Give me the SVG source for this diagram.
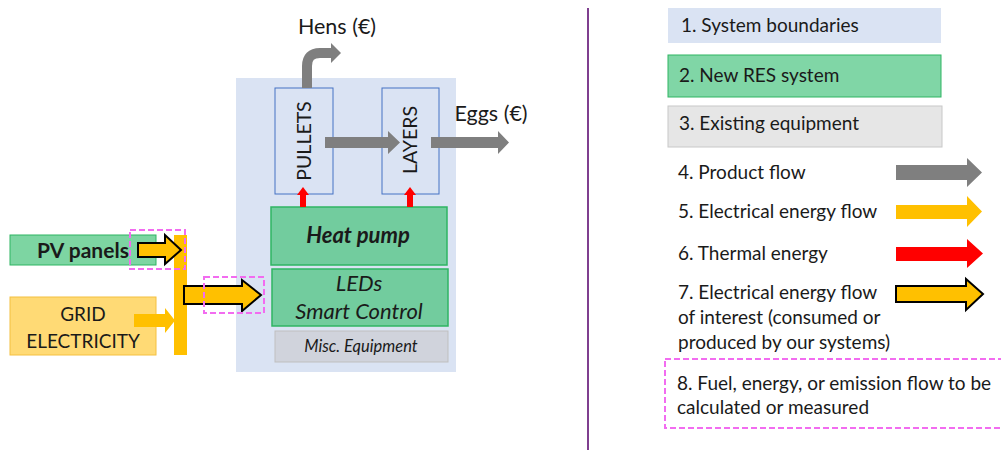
<svg xmlns="http://www.w3.org/2000/svg" width="1001" height="453" viewBox="0 0 1001 453">
<style>
text{font-family:Lato,"Liberation Sans",sans-serif;fill:#1a1a1a}
.lg{font-size:19px}
.green{fill:#72cc9e;stroke:#2fb563;stroke-width:1.5}
.gray{fill:#7f7f7f}
.yel{fill:#ffc000}
.yelo{fill:#ffc000;stroke:#000;stroke-width:2;stroke-linejoin:miter}
.red{fill:#ff0000}
.dash{fill:none;stroke:#f26cf0;stroke-width:2;stroke-dasharray:6,3}
.unit{fill:none;stroke:#4472c4;stroke-width:1}
</style>
<rect width="1001" height="453" fill="#fff"/>
<g id="boundary"><rect x="236" y="78" width="220" height="294" fill="#dae3f3"/></g>
<g id="pullets"><rect class="unit" x="275" y="88" width="58" height="106"/><text transform="translate(311,141) rotate(-90)" text-anchor="middle" font-size="19.5">PULLETS</text></g>
<g id="layers"><rect class="unit" x="382" y="88" width="57" height="106"/><text transform="translate(417,140) rotate(-90)" text-anchor="middle" font-size="19.5">LAYERS</text></g>
<g id="heatpump"><rect class="green" x="271" y="207" width="176" height="58"/><text x="358" y="243" text-anchor="middle" font-size="22" font-weight="bold" font-style="italic">Heat pump</text></g>
<g id="leds"><rect class="green" x="272" y="269" width="176" height="57"/><text x="359" y="291" text-anchor="middle" font-size="22" font-style="italic">LEDs</text><text x="359" y="319" text-anchor="middle" font-size="22" font-style="italic">Smart Control</text></g>
<g id="misc"><rect x="275" y="331" width="173" height="31" fill="#d0d3dc" stroke="#bfbfbf"/><text x="361" y="352" text-anchor="middle" font-size="16.5" font-style="italic">Misc. Equipment</text></g>
<g id="pv"><rect x="10" y="235" width="146" height="30" fill="#7dd5a2" stroke="#2fb563"/><text x="83" y="258" text-anchor="middle" font-size="21" font-weight="bold">PV panels</text></g>
<g id="grid"><rect x="10" y="297" width="146" height="58" fill="#ffda75" stroke="#f4c040"/><text x="83" y="321" text-anchor="middle" font-size="19">GRID</text><text x="83" y="348" text-anchor="middle" font-size="19">ELECTRICITY</text></g>
<g id="bus"><rect class="yel" x="174" y="235" width="13" height="120"/></g>
<g id="hens-label"><text x="337" y="34" text-anchor="middle" font-size="21.5">Hens (€)</text></g>
<g id="eggs-label"><text x="491" y="121" text-anchor="middle" font-size="21.5">Eggs (€)</text></g>
<g id="connectors">
<path d="M307,88 V66 Q307,53 320,53 H332" fill="none" stroke="#7f7f7f" stroke-width="10"/>
<polygon class="gray" points="331,43 341,53 331,63"/>
<polygon class="gray" points="325,137 388,137 388,131 400,142.5 388,154 388,148 325,148"/>
<polygon class="gray" points="431,137 498,137 498,131 509,142.5 498,154 498,148 431,148"/>
<polygon class="red" points="300,207 300,195 297,195 303,187 309,195 306,195 306,207"/>
<polygon class="red" points="407,207 407,195 404,195 410,187 416,195 413,195 413,207"/>
<polygon class="yelo" points="138,243 165,243 165,235 181,250 165,264 165,257 138,257"/>
<polygon class="yel" points="134,314 165,314 165,308 175,320.5 165,333 165,327 134,327"/>
<polygon class="yelo" points="184,286 242,286 242,280 261,295 242,311 242,304 184,304"/>
<rect class="dash" x="130" y="230" width="55" height="39"/>
<rect class="dash" x="204" y="277" width="60" height="36"/>
</g>
<g id="divider"><line x1="588" y1="8" x2="588" y2="450" stroke="#7f3f8f" stroke-width="2"/></g>
<g id="legend">
<rect x="668" y="8" width="273" height="35" fill="#dae3f3"/>
<text class="lg" x="681" y="32">1. System boundaries</text>
<rect x="668" y="55" width="273" height="42" fill="#80d6a6" stroke="#2fb563"/>
<text class="lg" x="679" y="82">2. New RES system</text>
<rect x="668" y="106" width="274" height="41" fill="#e6e6e6" stroke="#c8c8c8"/>
<text class="lg" x="679" y="130">3. Existing equipment</text>
<text class="lg" x="678" y="179">4. Product flow</text>
<polygon class="gray" points="896,165 967,165 967,158 982,172.5 967,187 967,180 896,180"/>
<text class="lg" x="678" y="218">5. Electrical energy flow</text>
<polygon class="yel" points="896,205 967,205 967,196 982,211.5 967,227 967,219 896,219"/>
<text class="lg" x="678" y="260">6. Thermal energy</text>
<polygon class="red" points="896,247 967,247 967,239 983,253.5 967,268 967,261 896,261"/>
<text class="lg" x="678" y="299">7. Electrical energy flow</text>
<text class="lg" x="678" y="324">of interest (consumed or</text>
<text class="lg" x="678" y="349">produced by our systems)</text>
<polygon class="yelo" points="896,286 966,286 966,279 983,294 966,310 966,302 896,302"/>
<rect class="dash" x="665" y="359" width="340" height="69"/>
<text class="lg" x="677" y="390">8. Fuel, energy, or emission flow to be</text>
<text class="lg" x="677" y="414">calculated or measured</text>
</g>
</svg>
